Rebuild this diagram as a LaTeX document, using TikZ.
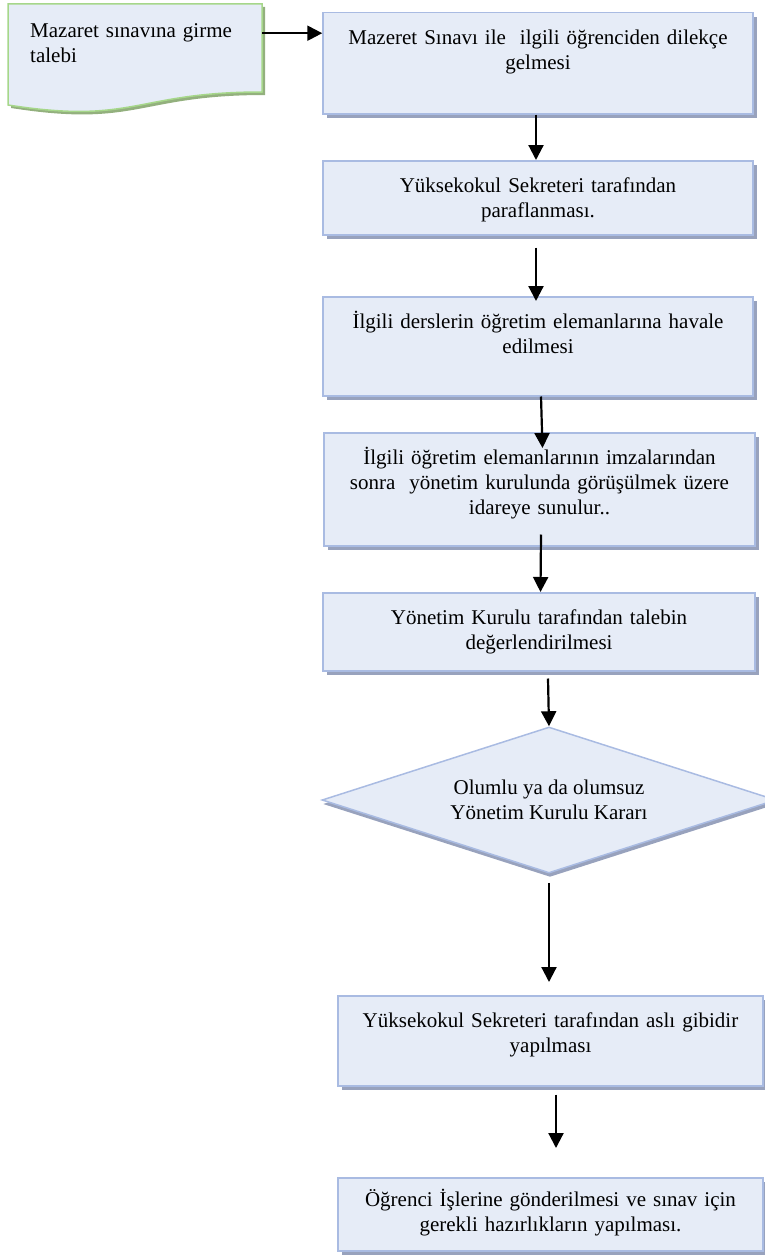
\documentclass[tikz,border=0pt]{standalone}
\usepackage{fontspec}
\setmainfont{Liberation Serif}
\usetikzlibrary{arrows.meta,shapes.geometric,shadows,calc}
\definecolor{boxCol}{HTML}{E6ECF7}
\definecolor{borderCol}{HTML}{A9BBE2}
\definecolor{shadowCol}{HTML}{98A2BD}
\definecolor{docBorderCol}{HTML}{A6D78A}
\definecolor{docShadowCol}{HTML}{93B07E}
\tikzstyle{flow}=[line width=2.2pt, draw=black, -{Triangle[length=15pt,width=15pt]}]
\tikzstyle{stepbox}=[draw=borderCol, line width=1.5pt, fill=boxCol, anchor=north, inner xsep=0pt, inner ysep=0pt, text height=32pt, align=center, font=\fontsize{21}{25}\selectfont, drop shadow={shadow xshift=4pt, shadow yshift=-4pt, fill=shadowCol, opacity=1}]
\tikzstyle{decision}=[diamond, aspect=3.1, draw=borderCol, line width=1.5pt, fill=boxCol, inner sep=0pt, minimum width=454pt, minimum height=146pt, align=center, font=\fontsize{21}{25}\selectfont, drop shadow={shadow xshift=1pt, shadow yshift=-4pt, fill=shadowCol, opacity=1}]
\tikzstyle{docshape}=[draw=docBorderCol, line width=1.5pt, fill=boxCol, drop shadow={shadow xshift=3pt, shadow yshift=-3pt, fill=docShadowCol, opacity=1}]
\tikzstyle{doctext}=[anchor=north west, inner xsep=22pt, inner ysep=0pt, text width=210pt, align=left, text height=33pt, text depth=55pt, font=\fontsize{21}{25}\selectfont]

\begin{document}
\begin{tikzpicture}[x=1pt, y=-1pt]
    \useasboundingbox (0,0) rectangle (765,1255);

    % === REQUEST DOCUMENT ===
    \draw[docshape] (8,4) -- (262,4) -- (262,92) .. controls (135,92) and (135,125) .. (8,105) -- cycle;
    \node[doctext] (talep) at (8,4) {Mazaret sınavına girme\\talebi};

    % === STEPS ===
    \node[stepbox, text width=430pt, text depth=69pt] (dilekce) at (538,12)
        {Mazeret Sınavı ile\ \ ilgili öğrenciden dilekçe\\gelmesi};
    \node[stepbox, text width=430pt, text depth=42pt] (paraf) at (538,160)
        {Yüksekokul Sekreteri tarafından\\paraflanması.};
    \node[stepbox, text width=430pt, text depth=67pt] (havale) at (538,296)
        {İlgili derslerin öğretim elemanlarına havale\\edilmesi};
    \node[stepbox, text width=431pt, text depth=81pt] (imza) at (539.5,432)
        {İlgili öğretim elemanlarının imzalarından\\sonra\ \ yönetim kurulunda görüşülmek üzere\\idareye sunulur..};
    \node[stepbox, text width=432pt, text depth=46pt] (ykdeger) at (539,592)
        {Yönetim Kurulu tarafından talebin\\değerlendirilmesi};

    % === DECISION ===
    \node[decision] (karar) at (549,800) {Olumlu ya da olumsuz\\Yönetim Kurulu Kararı};

    \node[stepbox, text width=425pt, text depth=58pt] (asli) at (550.5,995)
        {Yüksekokul Sekreteri tarafından aslı gibidir\\yapılması};
    \node[stepbox, text width=425pt, text height=29pt, text depth=44pt] (ogrenci) at (550.5,1177)
        {Öğrenci İşlerine gönderilmesi ve sınav için\\gerekli hazırlıkların yapılması.};

    % ==== CONNECTIONS ====
    \coordinate (talep-out) at ([yshift=15pt]talep.east);
    \draw[flow] (talep-out) -- (talep-out -| dilekce.west);

    \draw[flow] ([xshift=-2pt]dilekce.south) -- ([xshift=-2pt]paraf.north);
    \draw[flow] ([shift={(-2,12)}]paraf.south) -- ([shift={(-2,5)}]havale.north);
    \draw[flow] ([xshift=3pt]havale.south) -- ([shift={(3,16)}]imza.north);
    \draw[flow] ([shift={(1.5,-12)}]imza.south) -- ([xshift=1.5pt]ykdeger.north);
    \draw[flow] ([shift={(9,7)}]ykdeger.south) -- (karar.north);
    \draw[flow] ([yshift=-9pt]karar.south) -- ([shift={(-1.5,-13)}]asli.north);
    \draw[flow] ([shift={(5.5,8)}]asli.south) -- ([shift={(5.5,-29)}]ogrenci.north);

\end{tikzpicture}
\end{document}
